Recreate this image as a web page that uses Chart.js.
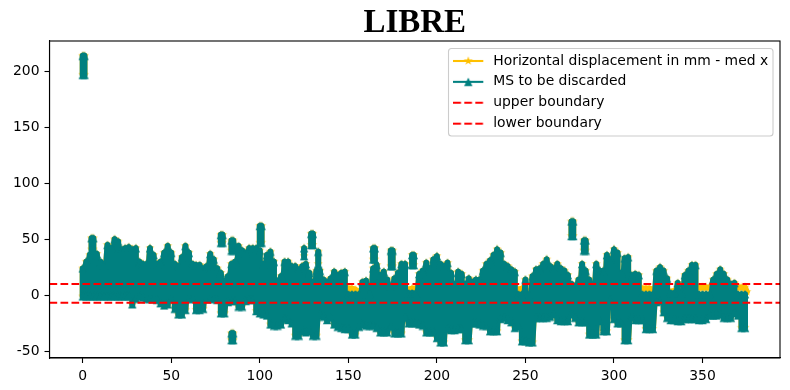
<!DOCTYPE html>
<html>
  <head>
    <meta charset="utf-8">
    <title>LIBRE</title>
    <script src="https://cdn.jsdelivr.net/npm/chart.js@4"></script>
    <style>
      html, body { margin: 0; padding: 0; background: #fff; }
      canvas { display: block; }
    </style>
    <script>
      const seriesNames = ['Horizontal displacement in mm - med x', 'MS to be discarded', 'upper boundary', 'lower boundary'];
      const xTicks = [0, 50, 100, 150, 200, 250, 300, 350];
      const yTicks = [-50, 0, 50, 100, 150, 200];

      // frame numbers, every second one is enough at this size
      const frames = [
        0, 2, 4, 6, 8, 10, 12, 14, 16, 18,
        20, 22, 24, 26, 28, 30, 32, 34, 36, 38,
        40, 42, 44, 46, 48, 50, 52, 54, 56, 58,
        60, 62, 64, 66, 68, 70, 72, 74, 76, 78,
        80, 82, 84, 86, 88, 90, 92, 94, 96, 98,
        100, 102, 104, 106, 108, 110, 112, 114, 116, 118,
        120, 122, 124, 126, 128, 130, 132, 134, 136, 138,
        140, 142, 144, 146, 148, 150, 152, 154, 156, 158,
        160, 162, 164, 166, 168, 170, 172, 174, 176, 178,
        180, 182, 184, 186, 188, 190, 192, 194, 196, 198,
        200, 202, 204, 206, 208, 210, 212, 214, 216, 218,
        220, 222, 224, 226, 228, 230, 232, 234, 236, 238,
        240, 242, 244, 246, 248, 250, 252, 254, 256, 258,
        260, 262, 264, 266, 268, 270, 272, 274, 276, 278,
        280, 282, 284, 286, 288, 290, 292, 294, 296, 298,
        300, 302, 304, 306, 308, 310, 312, 314, 316, 318,
        320, 322, 324, 326, 328, 330, 332, 334, 336, 338,
        340, 342, 344, 346, 348, 350, 352, 354, 356, 358,
        360, 362, 364, 366, 368, 370, 372, 374
      ];
      const frameHigh = [
        24, 30, 36, 38, 37, 30, 27, 45, 42, 50,
        48, 41, 42, 43, 41, 42, 30, 28, 28, 42,
        36, 28, 30, 38, 44, 38, 28, 26, 34, 44,
        38, 28, 27, 27, 24, 26, 37, 32, 24, 20,
        13, 17, 28, 30, 44, 40, 38, 42, 42, 42,
        40, 28, 36, 39, 30, 13, 17, 30, 30, 26,
        26, 23, 26, 28, 20, 12, 22, 22, 14, 12,
        15, 21, 18, 20, 21, 1, 1, 1, 1, 12,
        13, 1, 24, 27, 18, 21, 14, 8, 15, 20,
        28, 28, 2, 2, 2, 19, 22, 29, 24, 32,
        35, 28, 26, 29, 20, 10, 21, 19, 10, 15,
        12, 14, 14, 22, 28, 31, 36, 41, 38, 28,
        26, 23, 21, 1, 1, 14, 1, 17, 23, 24,
        28, 32, 26, 24, 28, 24, 22, 18, 10, 8,
        14, 28, 22, 14, 10, 28, 22, 22, 36, 32,
        41, 38, 20, 33, 34, 18, 19, 18, 1, 1,
        1, 1, 22, 25, 22, 15, 2, 2, 11, 2,
        18, 22, 27, 27, 1, 1, 1, 1, 14, 19,
        23, 19, 14, 10, 11, 1, 1, 1
      ];
      const frameLow = [
        -1, -1, -1, -1, -1, -1, -1, -1, -1, -1,
        -1, -1, -1, -1, -8, -3, -1, -2, -3, -3,
        -3, -4, -7, -9, -8, -3, -12, -17, -17, -13,
        -3, -3, -13, -13, -12, -3, -3, -3, -4, -16,
        -16, -6, -5, -5, -10, -10, -5, -4, -4, -14,
        -16, -17, -18, -26, -27, -27, -26, -21, -22, -25,
        -36, -36, -32, -33, -32, -36, -36, -18, -19, -22,
        -20, -26, -28, -29, -30, -30, -35, -35, -28, -26,
        -27, -27, -27, -29, -33, -33, -33, -28, -34, -34,
        -34, -20, -25, -25, -25, -26, -27, -33, -33, -33,
        -38, -42, -42, -30, -31, -31, -30, -30, -40, -40,
        -25, -25, -26, -27, -27, -32, -32, -32, -21, -20,
        -22, -24, -29, -28, -41, -41, -42, -42, -20, -20,
        -20, -20, -19, -17, -22, -23, -23, -23, -17, -20,
        -24, -24, -24, -35, -35, -35, -23, -32, -32, -4,
        -21, -25, -25, -40, -40, -19, -22, -22, -22, -30,
        -30, -30, -6, -5, -15, -20, -22, -22, -23, -23,
        -21, -21, -21, -21, -22, -22, -21, -18, -18, -18,
        -17, -20, -20, -20, -16, -18, -29, -29
      ];

      // clusters that stand apart from the main band
      const clusterX = [0, 1, 5, 6, 78, 79, 84, 85, 100, 101, 125, 129, 130, 133, 164, 165, 174, 175, 186, 187, 276, 277, 283, 284, 84, 85];
      const clusterHigh = [214, 214, 51, 51, 54, 54, 49, 49, 62, 62, 42, 55, 55, 39, 42, 42, 40, 40, 36, 36, 66, 66, 49, 49, -34, -34];
      const clusterLow = [197, 197, 41, 41, 47, 47, 40, 40, 47, 47, 35, 45, 45, 28, 32, 32, 26, 26, 27, 27, 53, 53, 40, 40, -40, -40];

      // displacement frames that are not in the discarded set
      const keptX = [110, 112, 114, 116, 146, 148, 150, 152, 154, 156, 180, 182, 184, 186, 188, 190, 192, 194, 212, 214, 246, 248, 250, 252, 316, 318, 320, 322, 332, 334, 336, 338, 344, 346, 348, 350, 352, 354, 356, 358, 364, 366, 368, 370, 372, 374, 375];
      const keptY = [5, 6, 4, 3, 2, 5, 6, 6, 5, 3, 2, 3, 5, 6, 6, 5, 4, 3, 3, 3, 5, 6, 5, 3, 6, 6, 6, 5, 3, 4, 4, 4, 4, 6, 7, 7, 7, 7, 5, 3, 5, 6, 6, 7, 7, 7, 3];

      const boundaryX = [-18.75, 393.75];
      const upperBoundary = [10.1, 10.1];
      const lowerBoundary = [-6.6, -6.6];

      const YELLOW = '#FFC000';
      const TEAL = '#008080';
      const RED = '#FF0000';
      // thick enough for the columns to merge into the solid band of markers
      const COLUMN_WIDTH = 6;

      function trianglePath(ctx, cx, cy) {
        ctx.beginPath();
        ctx.moveTo(cx, cy - 4.17);
        ctx.lineTo(cx - 4.17, cy + 4.17);
        ctx.lineTo(cx + 4.17, cy + 4.17);
        ctx.closePath();
      }

      function starPath(ctx, cx, cy) {
        ctx.beginPath();
        for (let i = 0; i < 10; i++) {
          const r = i % 2 ? 1.8 : 4.7;
          const a = -Math.PI / 2 + i * Math.PI / 5;
          ctx.lineTo(cx + r * Math.cos(a), cy + r * Math.sin(a));
        }
        ctx.closePath();
      }

      // markers the library has no filled version of
      function makeMarker(path, color) {
        const c = document.createElement('canvas');
        c.width = 10;
        c.height = 10;
        const ctx = c.getContext('2d');
        ctx.fillStyle = color;
        path(ctx, 5, 5);
        ctx.fill();
        return c;
      }

      // legend handle: a short line, optionally with the marker on it
      function makeHandle(path, color, dash) {
        const c = document.createElement('canvas');
        c.width = 33;
        c.height = 12;
        const ctx = c.getContext('2d');
        ctx.strokeStyle = color;
        ctx.fillStyle = color;
        ctx.lineWidth = 2.08;
        ctx.setLineDash(dash);
        ctx.beginPath();
        ctx.moveTo(0, 6);
        ctx.lineTo(30, 6);
        ctx.stroke();
        if (path) {
          path(ctx, 15, 6);
          ctx.fill();
        }
        return c;
      }

      // top and bottom of each frame joined up, a null breaks the line
      function columnPoints() {
        const pts = [];
        frames.forEach((f, i) => {
          pts.push({x: f, y: frameHigh[i]});
          pts.push({x: f, y: frameLow[i]});
        });
        clusterX.forEach((f, i) => {
          pts.push({x: f, y: null});
          pts.push({x: f, y: clusterHigh[i]});
          pts.push({x: f, y: clusterLow[i]});
        });
        return pts;
      }

      function keptPoints() {
        const pts = [];
        keptX.forEach((x, i) => {
          if (i === 0 || x - keptX[i - 1] > 2) pts.push({x: x, y: null});
          pts.push({x: x, y: keptY[i]});
        });
        return pts;
      }

      const framePlugin = {
        id: 'frameBox',
        beforeDraw(chart) {
          // legend sits inside the axes, upper right
          const legend = chart.legend;
          legend.left = 446.3;
          legend.right = 773;
          legend.top = 47;
          legend.bottom = 170;
          const ctx = chart.ctx;
          ctx.save();
          ctx.strokeStyle = '#CCCCCC';
          ctx.lineWidth = 1.1;
          ctx.beginPath();
          ctx.roundRect(448.5, 48.5, 324.5, 87.5, 3);
          ctx.stroke();
          ctx.restore();
        },
        afterDraw(chart) {
          const a = chart.chartArea;
          const ctx = chart.ctx;
          ctx.save();
          ctx.strokeStyle = '#000';
          ctx.lineWidth = 1.1;
          ctx.strokeRect(a.left, a.top, a.right - a.left, a.bottom - a.top);
          ctx.restore();
        }
      };

      function drawChart() {
        const handles = [
          makeHandle(starPath, YELLOW, []),
          makeHandle(trianglePath, TEAL, []),
          makeHandle(null, RED, [7.7, 3.3]),
          makeHandle(null, RED, [7.7, 3.3])
        ];
        const columns = columnPoints();

        new Chart(document.getElementById('chart'), {
          type: 'line',
          data: {
            datasets: [
              {
                label: seriesNames[0],
                data: columns.concat(keptPoints()),
                borderColor: YELLOW,
                backgroundColor: YELLOW,
                borderWidth: COLUMN_WIDTH,
                borderJoinStyle: 'round',
                borderCapStyle: 'round',
                pointStyle: makeMarker(starPath, YELLOW),
                pointRadius: 4,
                tension: 0,
                order: 4
              },
              {
                label: seriesNames[1],
                data: columns,
                borderColor: TEAL,
                backgroundColor: TEAL,
                borderWidth: COLUMN_WIDTH,
                borderJoinStyle: 'round',
                borderCapStyle: 'round',
                pointStyle: makeMarker(trianglePath, TEAL),
                pointRadius: 4,
                tension: 0,
                order: 3
              },
              {
                label: seriesNames[2],
                data: boundaryX.map((x, i) => ({x: x, y: upperBoundary[i]})),
                borderColor: RED,
                backgroundColor: RED,
                borderWidth: 2.08,
                borderDash: [7.7, 3.3],
                pointRadius: 0,
                order: 2
              },
              {
                label: seriesNames[3],
                data: boundaryX.map((x, i) => ({x: x, y: lowerBoundary[i]})),
                borderColor: RED,
                backgroundColor: RED,
                borderWidth: 2.08,
                borderDash: [7.7, 3.3],
                pointRadius: 0,
                order: 1
              }
            ]
          },
          options: {
            responsive: false,
            animation: false,
            spanGaps: false,
            layout: { padding: { left: 0, right: 6, top: 0, bottom: 0 } },
            font: { family: 'DejaVu Sans', size: 13.9 },
            plugins: {
              title: {
                display: true,
                text: 'LIBRE',
                fullSize: false,
                color: '#000',
                font: { family: 'Liberation Serif', size: 33, weight: 'bold', lineHeight: 1.05 },
                padding: { top: 6, bottom: 0.35 }
              },
              legend: {
                position: 'chartArea',
                align: 'start',
                labels: {
                  usePointStyle: true,
                  pointStyleWidth: 33,
                  boxHeight: 12,
                  padding: 7,
                  color: '#000',
                  font: { family: 'DejaVu Sans', size: 13.9 },
                  generateLabels(chart) {
                    // keep the plotting order, not the drawing order
                    const items = Chart.defaults.plugins.legend.labels.generateLabels(chart);
                    items.sort((a, b) => a.datasetIndex - b.datasetIndex);
                    items.forEach((item, i) => { item.pointStyle = handles[i]; });
                    return items;
                  }
                }
              },
              tooltip: { enabled: false }
            },
            scales: {
              x: {
                type: 'linear',
                min: -18.75,
                max: 393.75,
                afterBuildTicks(scale) { scale.ticks = xTicks.map(v => ({value: v})); },
                afterFit(scale) { scale.height = 32; },
                grid: { drawOnChartArea: false, tickLength: 5, tickColor: '#000', tickWidth: 1.1 },
                border: { color: '#000', width: 1.1 },
                ticks: { color: '#000', padding: 5, maxRotation: 0, autoSkip: false, font: { family: 'DejaVu Sans', size: 13.9 } }
              },
              y: {
                type: 'linear',
                min: -56,
                max: 227.2,
                afterBuildTicks(scale) { scale.ticks = yTicks.map(v => ({value: v})); },
                afterFit(scale) { scale.width = 49.5; },
                grid: { drawOnChartArea: false, tickLength: 5, tickColor: '#000', tickWidth: 1.1 },
                border: { color: '#000', width: 1.1 },
                ticks: { color: '#000', padding: 5, autoSkip: false, font: { family: 'DejaVu Sans', size: 13.9 } }
              }
            }
          },
          plugins: [framePlugin]
        });
      }
    </script>
  </head>

  <body onload="drawChart()">
    <canvas id="chart" width="790" height="390"></canvas>
  </body>
</html>
